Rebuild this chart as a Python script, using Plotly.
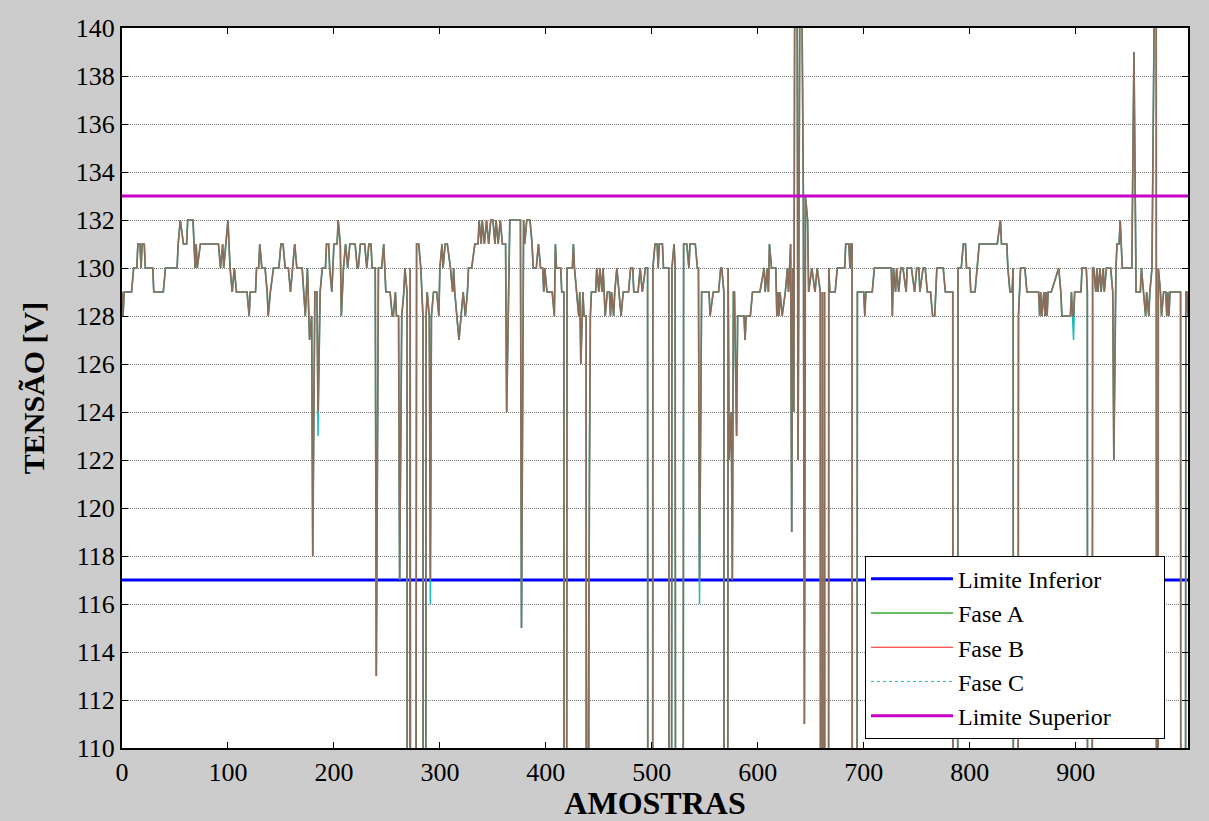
import plotly.graph_objects as go

# ---------------- data ----------------
# (amostra, tensão) breakpoints of the phase voltage (Fase B; A and C overlap it)
trecho_1 = [(0,129),(1,128),(2,129),(9,129),(11,130),(14,130),(15,131),(17,131),(18,130),(19,131),
            (21,131),(22,130),(29,130),(30,129),(39,129),(41,130),(52,130),(53,131),(55,132),(58,131),
            (61,131),(62,132),(67,132),(69,130),(70,131),(71,130),(74,131),(91,131),(93,130),(95,131),
            (96,130),(98,131),(100,132),(102,130),(104,129),(106,130),(108,129),(118,129),(120,128),(121,129),
            (126,129),(127,130),(129,130),(130,131),(132,130),(135,130),(137,129),(138,128),(140,129),(143,130),
            (148,130),(150,131),(152,131),(154,130),(157,130),(159,129),(161,130),(163,131)]
trecho_2 = [(165,130),(170,130),(173,128),(175,130),(177,127),(179,128),(180,118),(182,129),(184,129),(185,124),
            (187,129),(189,130),(192,130),(193,131),(195,131),(196,130),(198,129),(200,131),(203,131),(204,132),
            (206,131),(207,128),(209,130),(211,131),(213,130),(215,131),(220,131),(222,130),(223,130),(225,131),
            (229,131),(231,130),(233,131),(235,131),(236,130),(239,130),(240,113),(242,130),(245,130),(247,131),
            (249,129),(253,129),(255,128),(256,128),(258,129),(259,128),(261,128),(262,117),(264,128),(266,129),
            (267,130),(269,129),(270,0),(272,130),(273,0),(275,0),(278,131),(280,131),(282,130),(284,128),
            (285,0),(287,128),(288,129),(290,128),(291,117),(292,128),(294,129),(297,129),(299,128),(300,130),
            (302,131),(303,130),(305,131),(307,131),(310,130),(312,129),(313,130),(314,129),(316,128),(318,127),
            (320,128),(322,129)]
trecho_3 = [(324,128),(326,129),(327,130),(330,130),(333,131),(336,131),(337,132),(339,131),(340,132),(342,131),
            (344,132),(346,131),(348,132),(350,132),(352,131),(353,132),(355,131),(357,132),(359,131),(362,131),
            (363,124),(366,132),(376,132),(377,115),(379,132),(380,131),(382,132),(385,132),(387,131),(388,130),
            (391,130),(393,131),(395,130),(397,130),(398,129),(399,130),(401,129),(406,129),(408,128),(409,131),
            (410,130),(414,130),(415,129),(417,129),(418,0),(420,130),(425,130),(426,131),(427,130),(429,129),
            (431,128),(432,129),(433,126),(435,129),(436,128),(438,128),(439,0),(440,111),(441,122),(442,128),
            (443,129),(447,129),(448,130),(450,129),(451,130),(453,129),(454,130),(456,128),(458,129),(460,129),
            (461,128),(462,129),(464,128),(465,129),(467,130),(469,129),(471,128),(473,129),(478,129),(480,130),
            (482,130),(483,129),(487,129),(489,130),(491,129),(494,130)]
trecho_4 = [(496,130),(497,0),(500,0),(501,130),(503,131),(505,131),(506,130),(507,131),(510,131),(511,130),
            (516,130),(517,0),(519,130),(521,131),(522,130),(524,0),(528,0),(530,131),(533,131),(535,130),
            (536,131),(541,131),(543,130),(544,130),(545,117),(547,129),(554,129),(555,128),(558,129),(563,129),
            (565,130),(566,130),(568,129),(569,0),(570,0),(572,130),(573,122),(575,124),(576,117),(577,129),
            (578,129),(580,123),(581,128),(587,128),(588,127),(589,128),(593,128),(595,129),(602,129),(606,130),
            (607,129),(609,130),(610,129),(611,131),(613,130),(617,130),(618,128),(619,129),(620,128),(621,129),
            (623,128),(626,129),(628,130),(629,129),(631,131),(632,119),(633,130),(634,124),(635,145),(637,145),
            (638,122),(640,145),(641,145),(643,133),(644,111),(645,133),(647,132),(648,129),(651,130),(654,129),
            (656,130),(659,129)]
trecho_5 = [(660,0),(661,129),(662,0),(663,129),(664,0),(666,0),(667,130),(668,129),(673,129),(675,130),
            (682,130),(683,131),(686,131),(687,130),(688,131),(689,131),(690,0),(692,0),(694,129),(700,129),
            (701,128),(702,129),(708,129),(710,130),(726,130),(727,128),(728,130),(730,129),(731,130),(733,129),
            (735,130),(737,130),(740,129),(741,130),(745,130),(748,129),(750,130),(752,130),(753,129),(756,130),
            (758,130),(760,129),(763,129),(765,128),(767,128),(769,130),(775,130),(777,129),(784,129),(785,0),
            (787,0),(789,130),(792,130),(794,131),(796,131),(797,130),(800,130),(801,129),(805,129),(807,130),
            (809,131)]
trecho_6 = [(810,131),(826,131),(829,132),(830,131),(835,131),(836,130),(838,129),(840,129),(841,130),(842,0),
            (844,0),(846,128),(847,129),(848,130),(852,130),(854,129),(865,129),(866,128),(867,129),(868,128),
            (870,129),(871,128),(872,129),(873,128),(874,129),(877,129),(884,130),(886,129),(887,128),(895,128),
            (896,129),(897,128),(898,128),(899,129),(905,129),(906,130),(910,130),(911,129),(912,0),(914,0),
            (916,130),(917,130),(919,129),(920,130),(921,129),(923,130),(924,129),(926,130),(927,129),(929,130),
            (933,130),(935,129),(936,122),(938,130),(939,131),(941,131),(942,132),(943,131),(944,130),(953,130),
            (955,139),(957,129),(961,129),(962,130),(964,129),(966,128),(967,129),(969,128),(970,129),(972,130),
            (975,145),(976,145),(977,0),(978,130),(980,129),(981,128),(983,129),(985,129),(986,128),(987,129),
            (988,128),(989,129),(999,129),(1000,0),(1002,0),(1004,129),(1005,129),(1006,128)]

# where the other phases differ from Fase B (sample -> value)
fase_a_dif = {185: 124, 291: 117}
fase_c_dif = {138: 128, 159: 129, 185: 123, 291: 116, 440: 0, 545: 116, 898: 127, 1006: 129}

limite_x = [0, 1006]
limite_inferior = [117, 117]
limite_superior = [133, 133]

x_ticks = [0, 100, 200, 300, 400, 500, 600, 700, 800, 900]
y_ticks = list(range(110, 141, 2))

# ---------------- build series ----------------
pontos = trecho_1 + trecho_2 + trecho_3 + trecho_4 + trecho_5 + trecho_6
amostras = [p[0] for p in pontos]
fase_b = [p[1] for p in pontos]
fase_a = [fase_a_dif.get(x, v) for x, v in zip(amostras, fase_b)]
fase_c = [fase_c_dif.get(x, v) for x, v in zip(amostras, fase_b)]

FONT = "Liberation Serif, Times New Roman, Times, serif"
C_A = "#66bb66"
C_B_LEG = "#ff2020"
C_B = "#8b6e5a"
C_C = "#19bcbc"
PAD = "\u00a0" * 8  # widens the legend box like the original

fig = go.Figure()
fig.add_trace(go.Scatter(x=limite_x, y=limite_inferior, mode="lines", name="Limite Inferior",
                         line=dict(color="#0000ff", width=3), legendrank=1))
fig.add_trace(go.Scatter(x=amostras, y=fase_a, mode="lines", showlegend=False,
                         line=dict(color=C_A, width=0.8), hoverinfo="skip"))
fig.add_trace(go.Scatter(x=amostras, y=fase_c, mode="lines", showlegend=False,
                         line=dict(color=C_C, width=1.5), hoverinfo="skip"))
fig.add_trace(go.Scatter(x=amostras, y=fase_b, mode="lines", showlegend=False,
                         line=dict(color=C_B, width=1.7), hoverinfo="skip"))
# legend entries for the phases
fig.add_trace(go.Scatter(x=[None], y=[None], mode="lines", name="Fase A",
                         line=dict(color=C_A, width=2), legendrank=2))
fig.add_trace(go.Scatter(x=[None], y=[None], mode="lines", name="Fase B",
                         line=dict(color=C_B_LEG, width=1), legendrank=3))
fig.add_trace(go.Scatter(x=[None], y=[None], mode="lines", name="Fase C",
                         line=dict(color=C_C, width=1, dash="dot"), legendrank=4))
fig.add_trace(go.Scatter(x=limite_x, y=limite_superior, mode="lines", name="Limite Superior" + PAD,
                         line=dict(color="#c800c8", width=3), legendrank=5))

fig.update_layout(
    width=1209, height=821,
    margin=dict(l=122, r=21, t=28, b=73),
    paper_bgcolor="#cccccc",
    plot_bgcolor="#ffffff",
    font=dict(family=FONT, size=25, color="#000000"),
    showlegend=True,
    legend=dict(x=0.697, y=0.267, xanchor="left", yanchor="top",
                bgcolor="#ffffff", bordercolor="#000000", borderwidth=1,
                font=dict(family=FONT, size=24, color="#000000"),
                itemwidth=82, tracegroupgap=0),
)
fig.update_xaxes(
    range=[0, 1006], tickvals=x_ticks, ticktext=[str(v) for v in x_ticks],
    ticks="inside", ticklen=6, tickcolor="#000000", tickwidth=1,
    showline=True, linecolor="#000000", linewidth=2, mirror="ticks",
    showgrid=False, zeroline=False, automargin=False,
    tickfont=dict(family=FONT, size=26, color="#000000"),
    title=dict(text="<b>AMOSTRAS</b>", font=dict(family=FONT, size=32, color="#000000"), standoff=2),
)
fig.update_yaxes(
    range=[110, 140], tickvals=y_ticks, ticktext=[str(v) for v in y_ticks],
    ticks="inside", ticklen=6, tickcolor="#000000", tickwidth=1,
    showline=True, linecolor="#000000", linewidth=2, mirror="ticks",
    showgrid=True, gridcolor="#7a7a7a", gridwidth=1, griddash="1px,1px",
    zeroline=False, automargin=False,
    tickfont=dict(family=FONT, size=26, color="#000000"),
    title=dict(text="<b>TENSÃO [V]</b>", font=dict(family=FONT, size=30, color="#000000"), standoff=22),
)

fig.write_html("out.html")
